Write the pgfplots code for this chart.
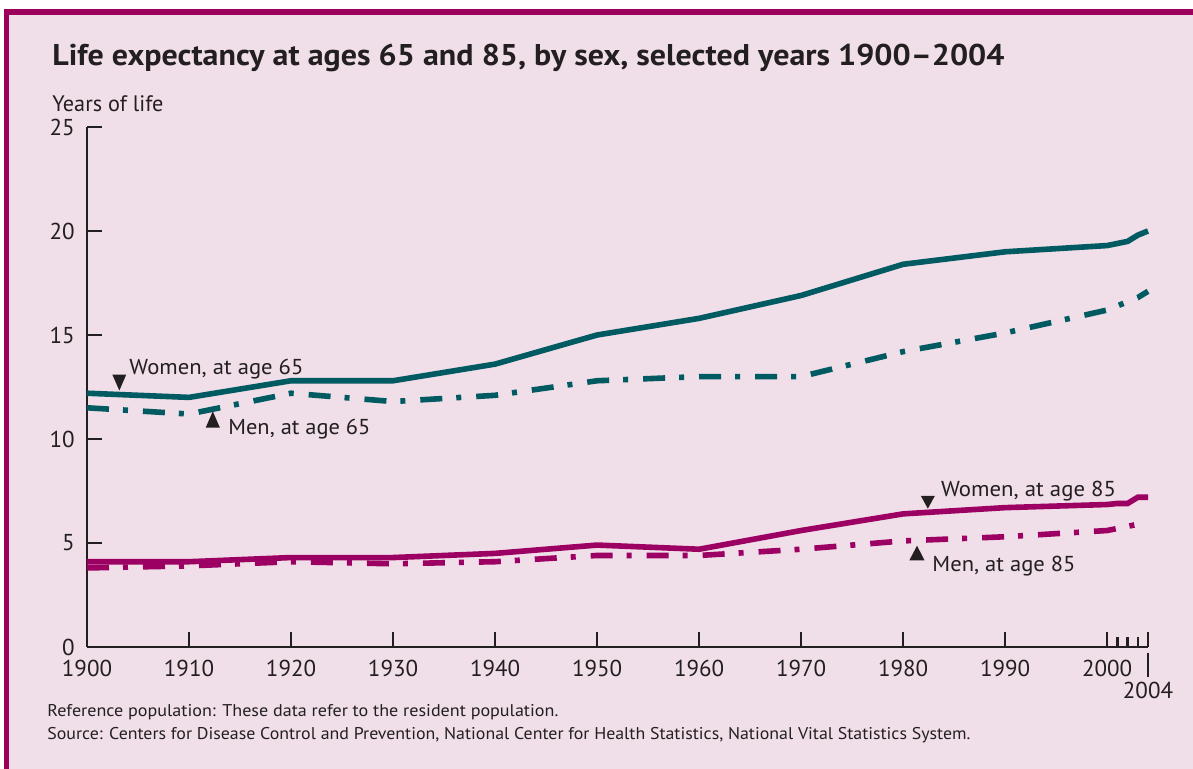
\documentclass[border=0pt]{standalone}
\usepackage{fontspec}
\setmainfont{PT Sans}
\usepackage{graphicx}
\usepackage{pgfplots}
\pgfplotsset{compat=1.18}
\definecolor{bg}{HTML}{F0DEE8}
\definecolor{frame}{HTML}{9A005C}
\definecolor{tealc}{HTML}{005A62}
\definecolor{magc}{HTML}{9B0062}
\definecolor{txt}{HTML}{231F20}
\begin{document}
\begin{tikzpicture}
\fill[white] (0,0) rectangle (596.5pt,384.5pt);
\fill[bg] (2pt,0) rectangle (596.5pt,380pt);
\fill[frame] (2pt,377pt) rectangle (596.5pt,380pt);
\fill[frame] (2pt,0) rectangle (4.5pt,380pt);
\node[anchor=base west, inner sep=0pt, text=txt] at (26pt,351.6pt)
  {\resizebox{476pt}{\height}{\fontsize{15}{18}\selectfont\bfseries Life expectancy at ages 65 and 85, by sex, selected years 1900–2004}};
\node[anchor=base west, inner sep=0pt, text=txt] at (26pt,328.6pt)
  {\resizebox{55.5pt}{\height}{\fontsize{11.2}{13}\selectfont Years of life}};
\node[anchor=base west, inner sep=0pt, text=txt] at (23.5pt,26pt)
  {\resizebox{255.5pt}{\height}{\fontsize{8.5}{10}\selectfont Reference population: These data refer to the resident population.}};
\node[anchor=base west, inner sep=0pt, text=txt] at (23.5pt,14.5pt)
  {\resizebox{461.5pt}{\height}{\fontsize{8.5}{10}\selectfont Source: Centers for Disease Control and Prevention, National Center for Health Statistics, National Vital Statistics System.}};
\begin{axis}[
  at={(43.5pt,61pt)}, anchor=south west,
  scale only axis, width=530.5pt, height=260pt,
  xmin=1900, xmax=2004, ymin=0, ymax=25,
  clip=false,
  axis x line=bottom, axis y line=left,
  axis line style={-, line width=1.2pt, txt},
  x axis line style={-}, y axis line style={-},
  xtick={1900,1910,1920,1930,1940,1950,1960,1970,1980,1990,2000,2004},
  xticklabels={1900,1910,1920,1930,1940,1950,1960,1970,1980,1990,2000,{}},
  minor xtick={2001,2002,2003},
  ytick={0,5,10,15,20,25},
  tick align=inside,
  major tick length=7.5pt, minor tick length=5pt,
  tick style={line width=1.2pt, txt},
  minor tick style={line width=1.2pt, txt},
  /pgf/number format/assume math mode=true,
  tick label style={font=\fontsize{11.5}{13}\selectfont, text=txt},
  xticklabel style={anchor=north, inner sep=0pt, yshift=-6.5pt},
  yticklabel style={anchor=east, inner sep=0pt, xshift=-6pt},
]
% Women at 65
\addplot[tealc, line width=2.8pt] coordinates {
(1900,12.2) (1910,12.0) (1920,12.8) (1930,12.8) (1940,13.6) (1950,15.0) (1960,15.8) (1970,16.9) (1980,18.4) (1990,19.0) (2000,19.3) (2001,19.4) (2002,19.5) (2003,19.8) (2004,20.0)};
% Men at 65
\addplot[tealc, line width=2.8pt, dash pattern=on 11pt off 7pt on 2.5pt off 7.5pt] coordinates {
(1900,11.5) (1910,11.2) (1920,12.2) (1930,11.8) (1940,12.1) (1950,12.8) (1960,13.0) (1970,13.0) (1980,14.2) (1990,15.1) (2000,16.2) (2001,16.4) (2002,16.6) (2003,16.8) (2004,17.1)};
% Women at 85
\addplot[magc, line width=2.8pt] coordinates {
(1900,4.1) (1910,4.1) (1920,4.3) (1930,4.3) (1940,4.5) (1950,4.9) (1960,4.7) (1970,5.6) (1980,6.4) (1990,6.7) (2000,6.85) (2001,6.9) (2002,6.9) (2003,7.2) (2004,7.2)};
% Men at 85
\addplot[magc, line width=2.8pt, dash pattern=on 11pt off 7pt on 2.5pt off 7.5pt] coordinates {
(1900,3.8) (1910,3.9) (1920,4.1) (1930,4.0) (1940,4.1) (1950,4.4) (1960,4.4) (1970,4.7) (1980,5.1) (1990,5.3) (2000,5.6) (2001,5.7) (2002,5.8) (2003,5.9) (2004,6.1)};
% annotation triangles
\fill[txt] (axis cs:1902.48,13.10) -- (axis cs:1903.85,13.10) -- (axis cs:1903.17,12.33) -- cycle;
\fill[txt] (axis cs:1911.64,10.55) -- (axis cs:1913.02,10.55) -- (axis cs:1912.33,11.33) -- cycle;
\fill[txt] (axis cs:1981.73,7.27) -- (axis cs:1983.11,7.27) -- (axis cs:1982.42,6.65) -- cycle;
\fill[txt] (axis cs:1980.6,4.16) -- (axis cs:1982.1,4.16) -- (axis cs:1981.36,4.87) -- cycle;
% annotation labels
\node[anchor=base west, inner sep=0pt, text=txt] at (axis cs:1904.12,13.10) {\resizebox{87pt}{\height}{\fontsize{10.8}{12}\selectfont Women, at age 65}};
\node[anchor=base west, inner sep=0pt, text=txt] at (axis cs:1913.82,10.21) {\resizebox{71pt}{\height}{\fontsize{10.8}{12}\selectfont Men, at age 65}};
\node[anchor=base west, inner sep=0pt, text=txt] at (axis cs:1983.67,7.24) {\resizebox{87.5pt}{\height}{\fontsize{10.8}{12}\selectfont Women, at age 85}};
\node[anchor=base west, inner sep=0pt, text=txt] at (axis cs:1982.83,3.63) {\resizebox{71.5pt}{\height}{\fontsize{10.8}{12}\selectfont Men, at age 85}};
% 2004 marker below axis
\draw[line width=1.2pt, txt] ([yshift=-3pt]axis cs:2004,0) -- ([yshift=-15pt]axis cs:2004,0);
\node[anchor=north, inner sep=0pt, text=txt, font=\fontsize{11.5}{13}\selectfont, yshift=-17.5pt] at (axis cs:2004,0) {2004};
\end{axis}
\end{tikzpicture}
\end{document}
